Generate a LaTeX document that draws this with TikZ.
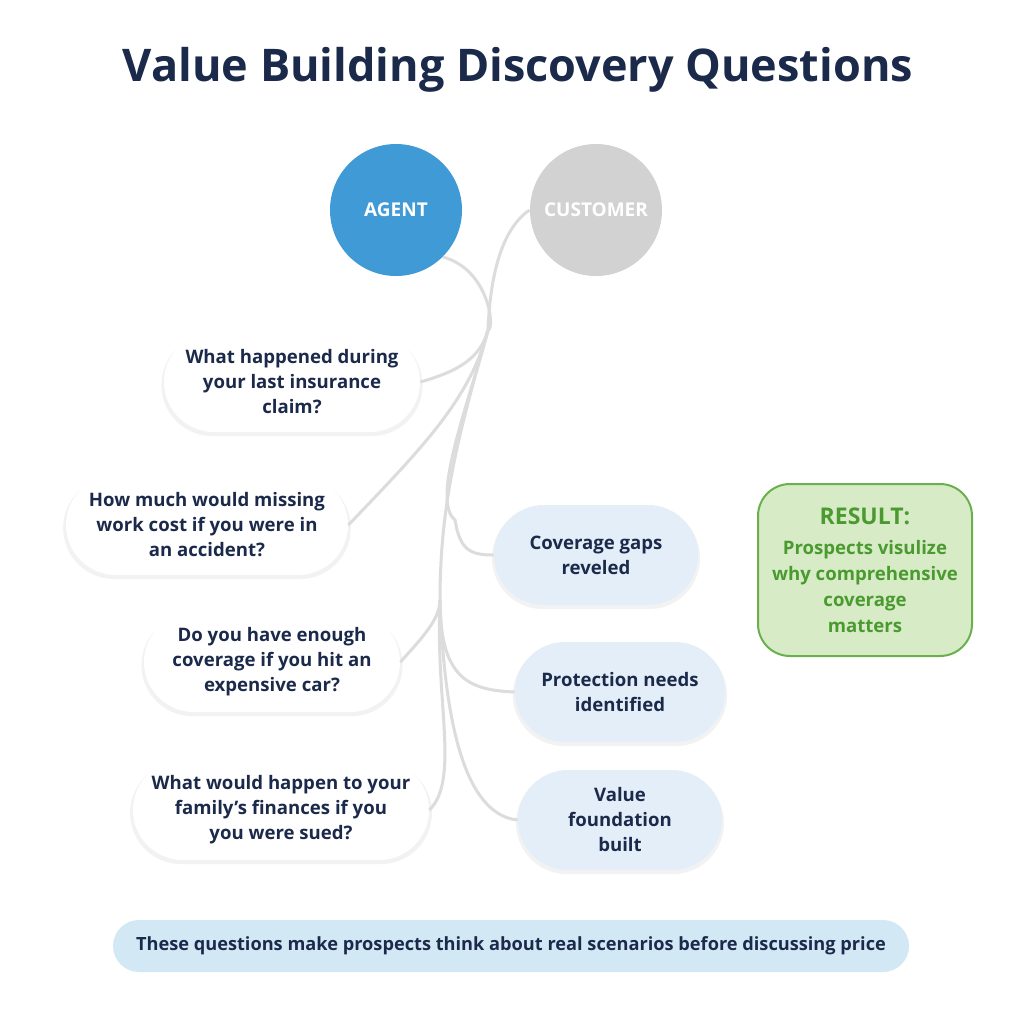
\documentclass[tikz,border=0pt]{standalone}
\usepackage{fontspec}
\setmainfont{Open Sans}
\usetikzlibrary{positioning,shadows}
\definecolor{navy}{HTML}{1B2A4A}
\definecolor{agentblue}{HTML}{3F9AD6}
\definecolor{custgray}{HTML}{D2D2D2}
\definecolor{paleblue}{HTML}{E3EEF8}
\definecolor{barblue}{HTML}{D3E8F5}
\definecolor{resfill}{HTML}{D6EBC6}
\definecolor{resline}{HTML}{6AB04C}
\definecolor{restext}{HTML}{4A9A30}
\definecolor{wire}{HTML}{DCDCDC}
\tikzset{
  person/.style={circle, minimum size=66pt, text=white, font=\bfseries\fontsize{9.5}{11}\selectfont},
  pill/.style={rounded corners=25pt, minimum height=50pt, align=center, text=navy,
    font=\bfseries\fontsize{9.3}{12.5}\selectfont, drop shadow={opacity=0.1, shadow xshift=0pt, shadow yshift=-1.5pt, shadow scale=1.02}},
  question/.style={pill, fill=white},
  answer/.style={pill, fill=paleblue},
  wire/.style={draw=wire, line width=1.5pt}
}
\begin{document}
\begin{tikzpicture}[x=0.5pt, y=-0.5pt]
\useasboundingbox[fill=white] (0,0) rectangle (1024,1024);
% title
\node (title) at (518,70) [text=navy, font=\bfseries\fontsize{22.5}{26}\selectfont] {Value Building Discovery Questions};
% people
\node (agent) at (396,210) [person, fill=agentblue] {AGENT};
\node (cust) at (596,210) [person, fill=custgray] {CUSTOMER};
\coordinate (trunk) at (488,330);
\coordinate (low) at (440,600);
% questions
\node (q1) at (292,382) [question, minimum width=128pt] {What happened during\\your last insurance\\claim?};
\node (q2) at (207,525) [question, minimum width=141pt] {How much would missing\\work cost if you were in\\an accident?};
\node (q3) at (272,662) [question, minimum width=128pt] {Do you have enough\\coverage if you hit an\\expensive car?};
\node (q4) at (281,810) [question, minimum width=148pt] {What would happen to your\\family's finances if you\\you were sued?};
% answers
\node (a1) at (596,555) [answer, minimum width=102pt] {Coverage gaps\\reveled};
\node (a2) at (620,692) [answer, minimum width=105pt] {Protection needs\\identified};
\node (a3) at (620,820) [answer, minimum width=102pt] {Value\\foundation\\built};
% wires
\draw[wire] (agent.south east) .. controls (490,270) and (495,330) .. (trunk);
\draw[wire] (cust.west) .. controls (500,230) and (490,280) .. (trunk);
\draw[wire] (trunk) .. controls (480,360) and (455,372) .. (q1.east);
\draw[wire] (trunk) .. controls (470,400) and (420,450) .. (q2.east);
\draw[wire] (trunk) .. controls (460,430) and (440,500) .. (low);
\draw[wire] (trunk) .. controls (470,400) and (430,500) .. (455,520) .. controls (460,550) and (470,555) .. (a1.west);
\draw[wire] (low) .. controls (440,620) and (420,640) .. (q3.east);
\draw[wire] (low) .. controls (440,680) and (470,690) .. (a2.west);
\draw[wire] (low) .. controls (435,700) and (460,780) .. (q4.east);
\draw[wire] (low) .. controls (445,740) and (470,815) .. (a3.west);
% result
\node (res) at (865,570) [rounded corners=16pt, fill=resfill, draw=resline, line width=1pt,
  minimum width=107pt, minimum height=86pt, align=center, text=restext,
  font=\bfseries\fontsize{9.3}{13}\selectfont]
  {{\fontsize{11.5}{16}\selectfont RESULT:}\\[2pt]Prospects visulize\\why comprehensive\\coverage\\matters};
% bottom bar
\node (note) at (511,946) [fill=barblue, rounded corners=13pt, minimum width=398pt, minimum height=26pt,
  text=navy, font=\bfseries\fontsize{9.1}{10}\selectfont]
  {These questions make prospects think about real scenarios before discussing price};
\end{tikzpicture}
\end{document}
